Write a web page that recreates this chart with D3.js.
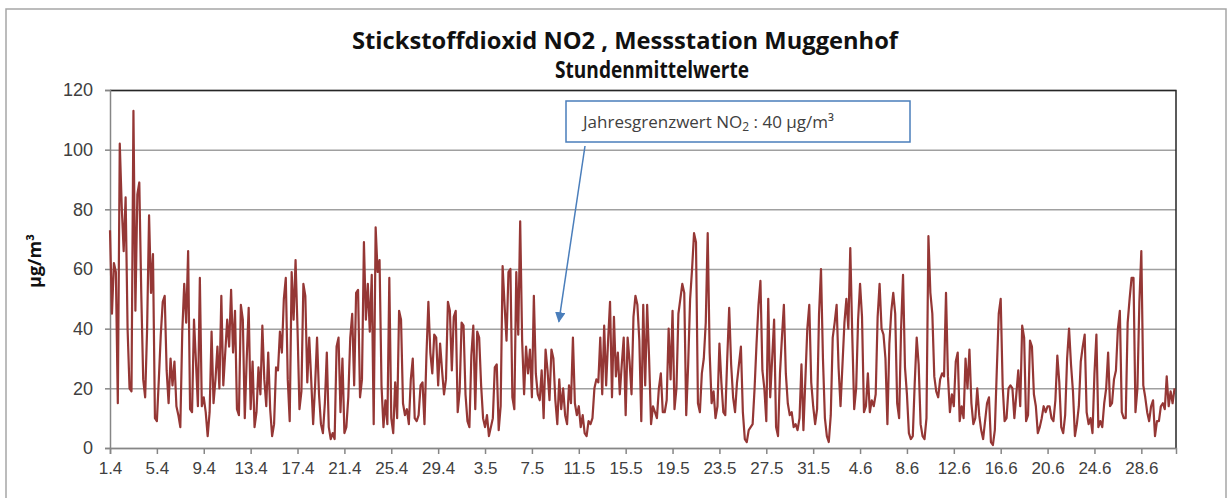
<!DOCTYPE html>
<html>
<head>
<meta charset="utf-8">
<script src="https://cdn.jsdelivr.net/npm/d3@7"></script>
<style>
  body { margin: 0; background: #fff; }
</style>
</head>
<body>
<div id="chart"></div>
<script>
// NO2 hourly means at a 4-hour step (6 values per day)
const no2April = [
  73,45,62,59,15,102,81,66,84,40, 20,19,113,46,85,89,52,23,17,40,
  78,52,65,10,9,23,38,49,51,26, 15,30,21,29,14,11,7,39,55,42,
  66,13,12,43,29,14,57,14,17,12, 4,12,39,15,23,34,20,51,21,32,
  43,34,53,32,46,13,11,
  48,43,10,30,47,13,29,7,12,27, 18,41,23,14,32,13,4,8,27,26,
  39,32,50,57,23,9,59,43,63,40, 13,19,55,51,22,37,23,8,21,37,
  18,8,5,15,32,7,3,5,3,34, 37,12,30,5,7,17,37,45,21,52,
  53,17,23,69,43,55,39,58,8,
  74,59,63,21,7,16,8,57,10,5, 22,10,46,43,15,11,13,8,23,30,
  10,9,11,21,22,8,31,49,32,25, 38,37,21,35,26,18,23,49,46,26,
  44,46,12,19
];
const no2May = [
  42,41,18,9,7,31, 41,13,39,37,21,10,7,11,4,7, 10,27,28,6,14,61,48,36,59,
  60,17,13,59,38,76,36,18,34,25, 33,17,51,25,18,16,26,10,33,26,
  16,33,30,16,8,23,13,20,11,8, 21,15,37,15,11,14,7,11,5,4,
  9,8,10,20,23,22,37,18,41,21, 36,49,17,44,24,32,18,28,37,11,
  37,29,18,44,51,48,36,9,48,
  21,48,30,8,14,12,10,20,25,12, 12,16,40,23,46,13,20,45,50,55,
  52,11,28,50,60,72,69,15,12,25, 30,42,72,32,15,19,10,14,35,22,
  12,11,30,47,28,17,12,22,28,34, 12,3,2,6,7,8,20,35,48,56,
  26,20,9,50,17,30,43,7,4,
  25,37,48,25,15,11,12,7,8,6, 10,28,6,23,40,48,22,14,8,13,
  45,60,30
];
const no2June = [
  10,4,2,11,37,42,48, 27,14,28,42,50,40,67,38,13,20,
  43,55,44,12,14,25,12,16,14,18, 44,55,40,38,30,8,35,46,52,45,
  15,10,40,58,27,18,5,3,4,
  22,37,28,8,4,3,10,71,52,45, 24,19,17,23,25,24,52,24,12,18,
  14,29,32,9,14,10,30,20,33,15, 8,10,20,11,6,3,9,15,17,2,
  1,6,26,45,50,21,9,10,20,21, 20,10,18,26,14,41,37,9,11,36,
  34,18,14,5,7,10,14,12,14,
  14,10,9,16,31,22,7,5,11,30, 40,28,19,4,8,14,29,34,38,12,
  8,10,5,25,38,7,9,7,15,20, 32,14,15,23,26,40,46,12,10,10,
  42,50,57,57,12,20,49,66,21,17, 12,9,14,16,4,9,9,14,15,13,
  24,14,19,15,20
];
const stepHours = 4;
const totalHours = 91 * 24;

// tick labels every 4 days (day.month)
const dayLabels = ["1.4","5.4","9.4","13.4","17.4","21.4","25.4","29.4","3.5","7.5",
  "11.5","15.5","19.5","23.5","27.5","31.5","4.6","8.6","12.6","16.6","20.6","24.6","28.6"];
const yTicks = [0, 20, 40, 60, 80, 100, 120];

const titleLine1 = "Stickstoffdioxid NO2 , Messstation Muggenhof";
const titleLine2 = "Stundenmittelwerte";
const yTitle = "µg/m³";
const limitValue = 40;

/////////////////////
// Dimensions
/////////////////////
const W = 1229, H = 498;
const margin = { top: 90, right: 53, bottom: 50, left: 110 };
const width = W - margin.left - margin.right;
const height = 448 - margin.top;

const svg = d3.select("#chart")
  .append("svg")
  .attr("width", W)
  .attr("height", H)
  .style("font-family", "'Open Sans', sans-serif");

// outer chart frame
svg.append("rect")
  .attr("x", 6).attr("y", 9)
  .attr("width", 1220).attr("height", 520)
  .attr("fill", "none")
  .attr("stroke", "#a6a6a6")
  .attr("stroke-width", 1.5);

// title
svg.append("text")
  .attr("x", 625).attr("y", 49)
  .attr("text-anchor", "middle")
  .attr("font-size", 23).attr("font-weight", "bold")
  .attr("fill", "#111")
  .attr("textLength", 546).attr("lengthAdjust", "spacingAndGlyphs")
  .text(titleLine1);
svg.append("text")
  .attr("x", 652).attr("y", 78)
  .attr("text-anchor", "middle")
  .attr("font-size", 23).attr("font-weight", "bold")
  .attr("fill", "#111")
  .attr("textLength", 194).attr("lengthAdjust", "spacingAndGlyphs")
  .text(titleLine2);

const g = svg.append("g")
  .attr("transform", `translate(${margin.left}, ${margin.top})`);

/////////////////////
// Scales
/////////////////////
const series = no2April.concat(no2May, no2June)
  .map((v, i) => ({ h: i * stepHours, v }));

const xScale = d3.scaleLinear()
  .domain([0, totalHours - 1])
  .range([0, width]);

const yScale = d3.scaleLinear()
  .domain([0, 120])
  .range([height, 0]);

// horizontal grid
g.append("g")
  .attr("class", "grid")
  .call(d3.axisLeft(yScale).tickValues(yTicks).tickSize(-width).tickFormat(""))
  .call(s => s.select(".domain").remove())
  .call(s => s.selectAll("line").attr("stroke", "#a0a0a0").attr("stroke-width", 1.5));

// frame top/right
g.append("path")
  .attr("d", `M0,0.5H${width}V${height}`)
  .attr("fill", "none")
  .attr("stroke", "#262626")
  .attr("stroke-width", 1.5);

// y axis
g.append("g")
  .call(d3.axisLeft(yScale).tickValues(yTicks).tickSize(5).tickPadding(12))
  .call(s => s.select(".domain").attr("stroke", "#868686").attr("stroke-width", 1.5))
  .call(s => s.selectAll("line").attr("stroke", "#868686").attr("stroke-width", 1.5))
  .call(s => s.selectAll("text").attr("font-size", 18).attr("fill", "#404040"));

// x axis
const labelHours = dayLabels.map((d, i) => i * 4 * 24);
g.append("g")
  .attr("transform", `translate(0, ${height})`)
  .call(d3.axisBottom(xScale).tickValues(labelHours)
    .tickFormat((d, i) => dayLabels[i]).tickSize(6).tickPadding(8))
  .call(s => s.select(".domain").attr("stroke", "#868686").attr("stroke-width", 1.5))
  .call(s => s.selectAll("line").attr("stroke", "#868686").attr("stroke-width", 1.5))
  .call(s => s.selectAll("text").attr("font-size", 17).attr("fill", "#404040"));

// y title
svg.append("text")
  .attr("transform", "translate(41, 261) rotate(-90)")
  .attr("text-anchor", "middle")
  .attr("font-size", 18).attr("font-weight", "bold")
  .attr("fill", "#111")
  .text(yTitle);

/////////////////////
// NO2 line
/////////////////////
const lineGen = d3.line()
  .x(d => xScale(d.h))
  .y(d => yScale(d.v));

g.append("path")
  .datum(series)
  .attr("fill", "none")
  .attr("stroke", "#953735")
  .attr("stroke-width", 2.2)
  .attr("stroke-linejoin", "round")
  .attr("d", lineGen);

/////////////////////
// annotation with arrow
/////////////////////
svg.append("defs").append("marker")
  .attr("id", "arrow")
  .attr("viewBox", "0 0 10 10")
  .attr("refX", 9).attr("refY", 5)
  .attr("markerWidth", 7).attr("markerHeight", 7)
  .attr("orient", "auto")
  .append("path")
  .attr("d", "M0,0L10,5L0,10Z")
  .attr("fill", "#4a7ebb");

// arrow points at the 40 µg/m³ level
const arrowEndX = margin.left + xScale(38.3 * 24);
const arrowEndY = margin.top + yScale(limitValue) - 7;
svg.append("line")
  .attr("x1", 585).attr("y1", 146)
  .attr("x2", arrowEndX).attr("y2", arrowEndY)
  .attr("stroke", "#4a7ebb")
  .attr("stroke-width", 1.5)
  .attr("marker-end", "url(#arrow)");

svg.append("rect")
  .attr("x", 566).attr("y", 101)
  .attr("width", 344).attr("height", 41)
  .attr("fill", "#fff")
  .attr("stroke", "#4a7ebb")
  .attr("stroke-width", 1.5);

const note = svg.append("text")
  .attr("x", 583).attr("y", 128)
  .attr("font-size", 17)
  .attr("fill", "#404040");
note.append("tspan").text("Jahresgrenzwert NO");
note.append("tspan").attr("font-size", 12).attr("dy", 3).text("2");
note.append("tspan").attr("dy", -3).text(` : ${limitValue} µg/m³`);
</script>
</body>
</html>
